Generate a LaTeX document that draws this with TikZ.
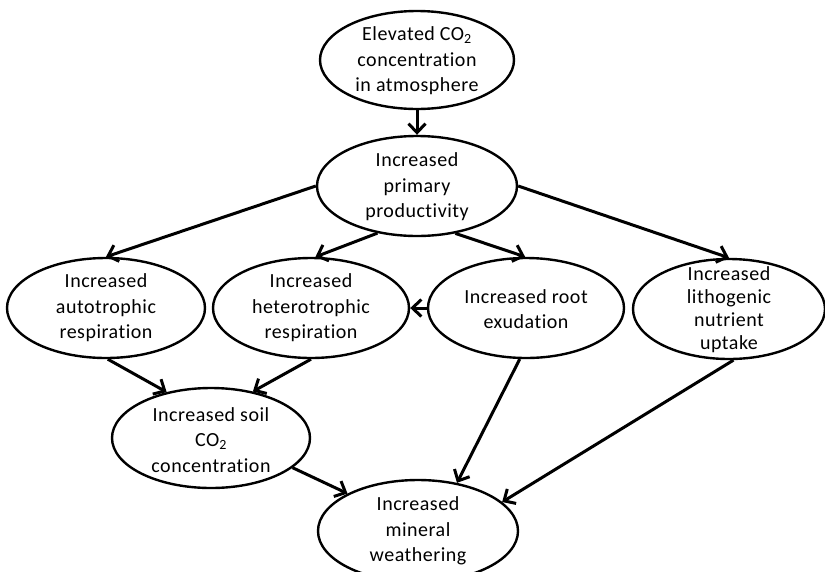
\documentclass[tikz,border=0pt]{standalone}
\usepackage{fontspec}
\setmainfont{Carlito}[Ligatures=NoCommon, LetterSpace=2.5]
\usetikzlibrary{arrows.meta,shapes.geometric}
\begin{document}
\begin{tikzpicture}[x=1pt,y=-1pt,
  ell/.style 2 args={ellipse, draw, line width=2.4pt, inner sep=0pt, minimum width=#1, minimum height=#2},
  txt/.style={align=center, font=\fontsize{20}{25.5}\selectfont, inner sep=0pt},
  arr/.style={line width=3pt, -{Straight Barb[length=9pt,width=17pt,line width=3pt]}}]
\fill[white] (0,0) rectangle (825,571);
\clip (0,0) rectangle (825,571);
% ellipses
\node[ell={194}{98}]  (top)  at (417,60)  {};
\node[ell={200}{100}] (prim) at (417,186) {};
\node[ell={198}{100}] (auto) at (106,308) {};
\node[ell={196}{100}] (het)  at (311,308) {};
\node[ell={196}{100}] (root) at (526,308) {};
\node[ell={192}{100}] (lith) at (729,309) {};
\node[ell={198}{100}] (soil) at (211,438) {};
\node[ell={200}{102}] (min)  at (418,531) {};
% texts
\node[txt] (toptxt)  at (417,61)  {Elevated CO\textsubscript{2}\\concentration\\in atmosphere};
\node[txt] (primtxt) at (417,187) {Increased\\primary\\productivity};
\node[txt] (autotxt) at (106,308) {Increased\\autotrophic\\respiration};
\node[txt] (hettxt)  at (311,308) {Increased\\heterotrophic\\respiration};
\node[txt] (roottxt) at (526,309) {Increased root\\exudation};
\node[txt, font=\fontsize{20}{23}\selectfont] (lithtxt) at (729,310) {Increased\\lithogenic\\nutrient\\uptake};
\node[txt] (soiltxt) at (211,440) {Increased soil\\CO\textsubscript{2}\\concentration};
\node[txt] (mintxt)  at (418,531) {Increased\\mineral\\weathering};
% connectors
\draw[arr] (top.south) -- (prim.north);
\draw[arr] (prim.180) -- (auto.north);
\draw[arr] (prim.230) -- (het.85);
\draw[arr] (prim.309) -- (root.91);
\draw[arr] (prim.0) -- (lith.90);
\draw[arr] (root.west) -- (het.east);
\draw[arr] (auto.272) -- (soil.134);
\draw[arr] (het.270) -- (soil.48);
\draw[arr] (root.263) -- (min.51);
\draw[arr] (lith.275) -- (min.19);
\draw[arr] (soil.340) -- (min.152);
\end{tikzpicture}
\end{document}
